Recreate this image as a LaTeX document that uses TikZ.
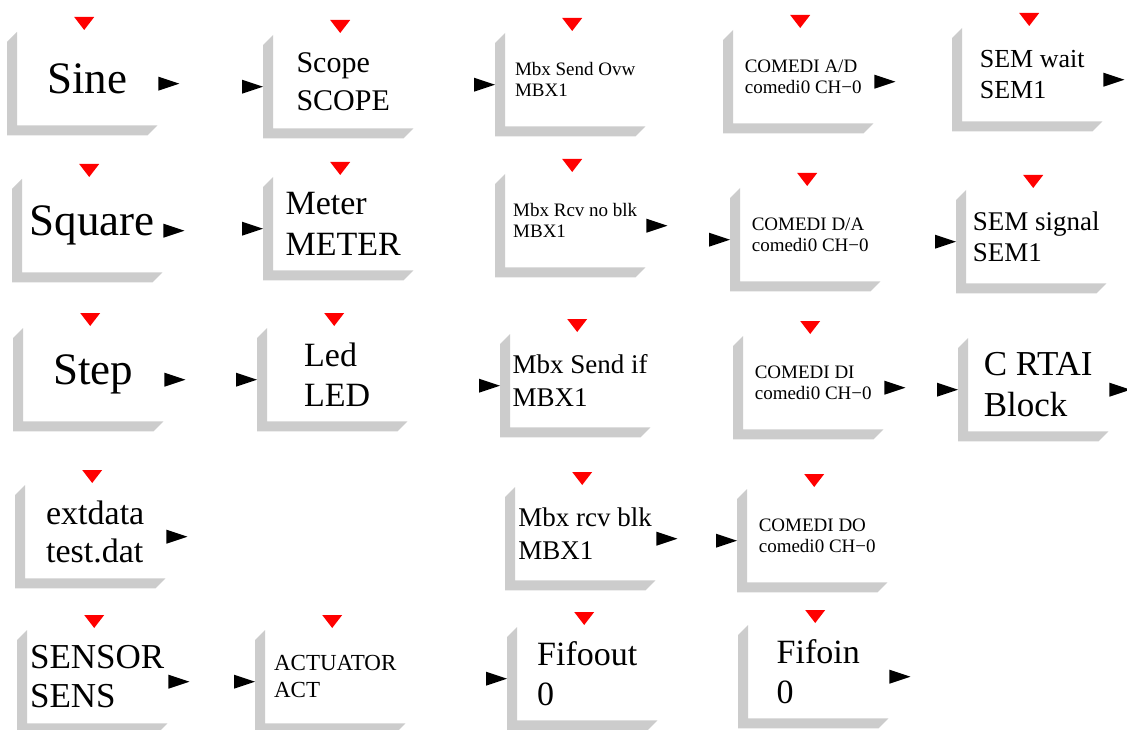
\documentclass[tikz,border=0pt]{standalone}
\usepackage{fontspec}
\setmainfont{Liberation Serif}

\newcommand{\blkfont}[2]{\fontsize{#1}{#2}\selectfont}

\begin{document}
\begin{tikzpicture}[x=1pt, y=-1pt,
    block/.style={rectangle, fill=white, minimum width=140pt, minimum height=93pt, inner sep=0pt, anchor=north west, align=left},
    port/.style={fill=black},
    evport/.style={fill=red},
    bshadow/.style={fill=black!20}
]
\useasboundingbox (0,0) rectangle (1127,730);

% row 1
\node[block, font=\blkfont{45}{50}] (sine) at (17,32) {Sine};
\node[block, font=\blkfont{30}{38}] (scope) at (273,35) {Scope\\SCOPE};
\node[block, font=\blkfont{19}{21}] (mbxsendovw) at (505,33) {Mbx Send Ovw\\MBX1};
\node[block, font=\blkfont{19}{21}] (adc) at (733,30) {COMEDI A/D\\comedi0 CH−0};
\node[block, font=\blkfont{26}{31}] (semwait) at (962,28) {SEM wait\\SEM1};

% row 2
\node[block, font=\blkfont{45}{50}] (square) at (22,179) {Square};
\node[block, font=\blkfont{34}{41}] (meter) at (273,177) {Meter\\METER};
\node[block, font=\blkfont{19}{21}] (mbxrcvnb) at (505,174) {Mbx Rcv no blk\\MBX1};
\node[block, font=\blkfont{19}{21}] (dac) at (740,188) {COMEDI D/A\\comedi0 CH−0};
\node[block, font=\blkfont{27}{31}] (semsignal) at (966,190) {SEM signal\\SEM1};

% row 3
\node[block, font=\blkfont{45}{50}] (step) at (23,328) {Step};
\node[block, font=\blkfont{34}{40}] (led) at (267,328) {Led\\LED};
\node[block, font=\blkfont{27}{33}] (mbxsendif) at (510,334) {Mbx Send if\\MBX1};
\node[block, font=\blkfont{19}{21}] (din) at (743,336) {COMEDI DI\\comedi0 CH−0};
\node[block, font=\blkfont{35}{41}] (crtai) at (968,338) {C RTAI\\Block};

% row 4
\node[block, font=\blkfont{34}{38}] (extdata) at (25,485) {extdata\\test.dat};
\node[block, font=\blkfont{27}{33}] (mbxrcvblk) at (515,487) {Mbx rcv blk\\MBX1};
\node[block, font=\blkfont{19}{21}] (dout) at (747,489) {COMEDI DO\\comedi0 CH−0};

% row 5
\node[block, font=\blkfont{35}{39}] (sensor) at (27,630) {SENSOR\\SENS};
\node[block, font=\blkfont{23}{27}] (actuator) at (265,630) {ACTUATOR\\ACT};
\node[block, font=\blkfont{34}{40}] (fifoout) at (517,627) {Fifoout\\0};
\node[block, font=\blkfont{34}{40}] (fifoin) at (748,625) {Fifoin\\0};

% shadows
\foreach \b in {sine,scope,mbxsendovw,adc,semwait,square,meter,mbxrcvnb,dac,semsignal,
    step,led,mbxsendif,din,crtai,extdata,mbxrcvblk,dout,sensor,actuator,fifoout,fifoin}
  \fill[bshadow] (\b.north west) -- ++(-10pt,-10pt) |- ([shift={(-10pt,-10pt)}]\b.south east)
    -- (\b.south east) -- (\b.south west) -- cycle;

% event inputs
\foreach \b in {sine,scope,mbxsendovw,adc,semwait,square,meter,mbxrcvnb,dac,semsignal,
    step,led,mbxsendif,din,extdata,mbxrcvblk,dout,sensor,actuator,fifoout,fifoin}{
  \coordinate (\b-ev) at ([shift={(-3pt,2pt)}]\b.north);
  \fill[evport] (\b-ev) -- ++(-10pt,13pt) -- ++(20pt,0pt) -- cycle;
}

% inputs
\foreach \b in {scope,mbxsendovw,meter,dac,semsignal,led,mbxsendif,crtai,dout,actuator,fifoout}{
  \coordinate (\b-in) at ([shift={(-10pt,-5pt)}]\b.west);
  \fill[port] (\b-in) -- ++(-21pt,7pt) -- ++(0pt,-14pt) -- cycle;
}

% outputs
\foreach \b in {sine,adc,semwait,square,mbxrcvnb,step,din,crtai,extdata,mbxrcvblk,sensor,fifoin}{
  \coordinate (\b-out) at ([shift={(1pt,-5pt)}]\b.east);
  \fill[port] (\b-out) -- ++(0pt,7pt) -- ++(21pt,-7pt) -- ++(-21pt,-7pt) -- cycle;
}
\end{tikzpicture}
\end{document}
